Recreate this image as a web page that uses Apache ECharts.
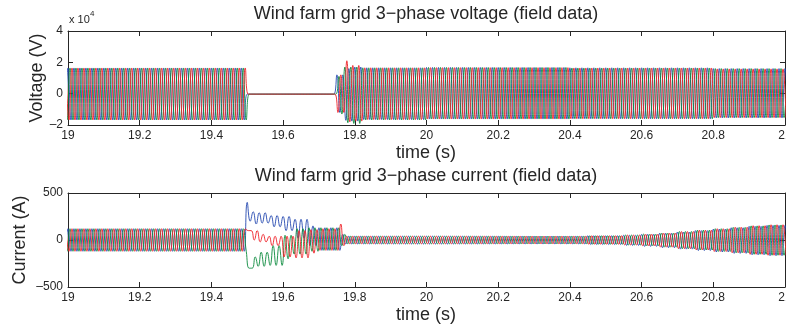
<!DOCTYPE html>
<html>
<head>
<meta charset="utf-8">
<script src="https://cdn.jsdelivr.net/npm/echarts@6/dist/echarts.min.js"></script>
<style>
  html, body { margin: 0; padding: 0; background: #fff; }
  #chart { width: 786px; height: 328px; }
</style>
</head>
<body>
<div id="chart"></div>
<script>
// time span and grid frequency
const T0 = 19
const T1 = 21
const FREQ = 60

// voltage envelope (upper / lower peak per segment)
const vTimes    = [19, 19.5, 19.75, 19.77, 19.79, 19.82, 20.0, 20.4, 20.8]
const vBlueHi   = [16400, -300, 12000, 16000, 17000, 16500, 16700, 16500, 16000]
const vBlueLo   = [-16800, -300, -12000, -17000, -17500, -16500, -16200, -16000, -15500]
const vGreenHi  = [16400, -300, 11000, 17000, 17000, 16500, 16700, 16400, 16000]
const vGreenLo  = [-16800, -300, -13000, -18500, -19000, -16800, -16200, -16000, -15300]
const vRedHi    = [16400, -300, 12000, 21000, 18000, 16500, 16600, 16400, 15800]
const vRedLo    = [-16800, -300, -12000, -18000, -17500, -16500, -16200, -16000, -15300]

// current envelope (upper / lower peak per segment)
const cTimes    = [19, 19.5, 19.51, 19.53, 19.56, 19.6, 19.63, 19.67, 19.7, 19.76, 19.775, 20.45, 20.55, 20.6, 20.65, 20.7, 20.75, 20.8, 20.85, 20.9, 20.95]
const cBlueHi   = [120, 400, 300, 290, 260, 250, 220, 150, 130, 60, 40, 45, 50, 60, 70, 85, 100, 115, 130, 145, 155]
const cBlueLo   = [-120, 200, 170, 180, 140, 100, 20, -60, -110, -60, -42, -48, -58, -68, -82, -97, -112, -127, -142, -157, -167]
const cGreenHi  = [120, -300, -180, -130, -60, 50, 120, 130, 130, 60, 40, 45, 52, 62, 74, 90, 104, 120, 134, 150, 160]
const cGreenLo  = [-120, -500, -300, -280, -270, -200, -150, -120, -110, -60, -40, -45, -52, -62, -76, -92, -106, -122, -136, -152, -162]
const cRedHi    = [120, 300, 100, 60, 40, 40, 100, 110, 120, 170, 40, 45, 52, 62, 74, 90, 104, 120, 136, 152, 162]
const cRedLo    = [-120, 100, 0, -20, -60, -180, -190, -140, -110, -60, -40, -45, -52, -62, -76, -92, -106, -122, -136, -152, -162]

const colors = ['#2447b0', '#0a8a3c', '#ee1f26']
const phases = [0, 1 / 3, 2 / 3]

const font = 'Liberation Sans, Arial, Helvetica, sans-serif'
const ink = '#262626'

function envAt(times, arr, t) {
  let i = 0
  while (i + 1 < times.length && t >= times[i + 1]) i++
  return arr[i]
}

// one point per half cycle, value taken from the read envelope
function wave(times, hi, lo, phase) {
  const pts = []
  const half = 1 / (2 * FREQ)
  for (let k = -2; ; k++) {
    const t = T0 + phase / FREQ + k * half
    if (t > T1 + half) break
    const tt = Math.max(T0, t)
    const v = ((k % 2) + 2) % 2 === 0 ? envAt(times, hi, tt) : envAt(times, lo, tt)
    pts.push([t, v])
  }
  return pts
}

function lineSeries(data, color, xi, yi) {
  return {
    type: 'line',
    data: data,
    xAxisIndex: xi,
    yAxisIndex: yi,
    showSymbol: false,
    smooth: 0.5,
    clip: true,
    silent: true,
    lineStyle: { color: color, width: 0.9 },
    z: 2
  }
}

function xAxisFor(gi, pos, labels) {
  return {
    type: 'value',
    gridIndex: gi,
    position: pos,
    min: T0,
    max: T1,
    interval: 0.2,
    axisLine: { show: true, onZero: false, lineStyle: { color: ink, width: 1 } },
    axisTick: { show: true, inside: true, length: 5, lineStyle: { color: ink } },
    axisLabel: {
      show: labels,
      margin: 5,
      color: ink,
      fontFamily: font,
      fontSize: 12,
      showMaxLabel: true,
      showMinLabel: true,
      formatter: v => String(parseFloat(v.toFixed(1)))
    },
    splitLine: { show: false }
  }
}

function yAxisFor(gi, pos, labels, min, max, interval, fmt) {
  return {
    type: 'value',
    gridIndex: gi,
    position: pos,
    min: min,
    max: max,
    interval: interval,
    axisLine: { show: true, onZero: false, lineStyle: { color: ink, width: 1 } },
    axisTick: { show: true, inside: true, length: 5, lineStyle: { color: ink } },
    axisLabel: {
      show: labels,
      margin: 5,
      color: ink,
      fontFamily: font,
      fontSize: 12,
      formatter: fmt
    },
    splitLine: { show: false }
  }
}

const dash = v => (v < 0 ? '\u2013' + Math.abs(v) : String(v))

const option = {
  animation: false,
  backgroundColor: '#fff',
  grid: [
    { left: 68, top: 31, width: 717, height: 94, outerBoundsMode: 'none', containLabel: false },
    { left: 68, top: 193, width: 717, height: 94, outerBoundsMode: 'none', containLabel: false }
  ],
  xAxis: [
    xAxisFor(0, 'bottom', true),
    xAxisFor(0, 'top', false),
    xAxisFor(1, 'bottom', true),
    xAxisFor(1, 'top', false)
  ],
  yAxis: [
    yAxisFor(0, 'left', true, -20000, 40000, 20000, v => dash(Math.round(v / 10000))),
    yAxisFor(0, 'right', false, -20000, 40000, 20000),
    yAxisFor(1, 'left', true, -500, 500, 500, v => dash(v)),
    yAxisFor(1, 'right', false, -500, 500, 500)
  ],
  series: [
    lineSeries(wave(vTimes, vBlueHi, vBlueLo, phases[0]), colors[0], 0, 0),
    lineSeries(wave(vTimes, vGreenHi, vGreenLo, phases[1]), colors[1], 0, 0),
    lineSeries(wave(vTimes, vRedHi, vRedLo, phases[2]), colors[2], 0, 0),
    lineSeries(wave(cTimes, cBlueHi, cBlueLo, phases[0]), colors[0], 2, 2),
    lineSeries(wave(cTimes, cGreenHi, cGreenLo, phases[1]), colors[1], 2, 2),
    lineSeries(wave(cTimes, cRedHi, cRedLo, phases[2]), colors[2], 2, 2)
  ],
  graphic: [
    { type: 'text', x: 426, y: 14, style: { text: 'Wind farm grid 3\u2212phase voltage (field data)', fill: ink, font: '18px ' + font, align: 'center', verticalAlign: 'middle' } },
    { type: 'text', x: 426, y: 176, style: { text: 'Wind farm grid 3\u2212phase current (field data)', fill: ink, font: '18px ' + font, align: 'center', verticalAlign: 'middle' } },
    { type: 'text', x: 426, y: 153, style: { text: 'time (s)', fill: ink, font: '18px ' + font, align: 'center', verticalAlign: 'middle' } },
    { type: 'text', x: 426, y: 315, style: { text: 'time (s)', fill: ink, font: '18px ' + font, align: 'center', verticalAlign: 'middle' } },
    { type: 'text', x: 37, y: 78, rotation: Math.PI / 2, style: { text: 'Voltage (V)', fill: ink, font: '18px ' + font, align: 'center', verticalAlign: 'middle' } },
    { type: 'text', x: 20, y: 240, rotation: Math.PI / 2, style: { text: 'Current (A)', fill: ink, font: '18px ' + font, align: 'center', verticalAlign: 'middle' } },
    { type: 'text', x: 69, y: 20, style: { text: 'x 10', fill: ink, font: '11px ' + font, align: 'left', verticalAlign: 'middle' } },
    { type: 'text', x: 90, y: 14, style: { text: '4', fill: ink, font: '8px ' + font, align: 'left', verticalAlign: 'middle' } }
  ]
}

const chart = echarts.init(document.getElementById('chart'), null, { renderer: 'canvas' })
chart.setOption(option)
</script>
</body>
</html>
